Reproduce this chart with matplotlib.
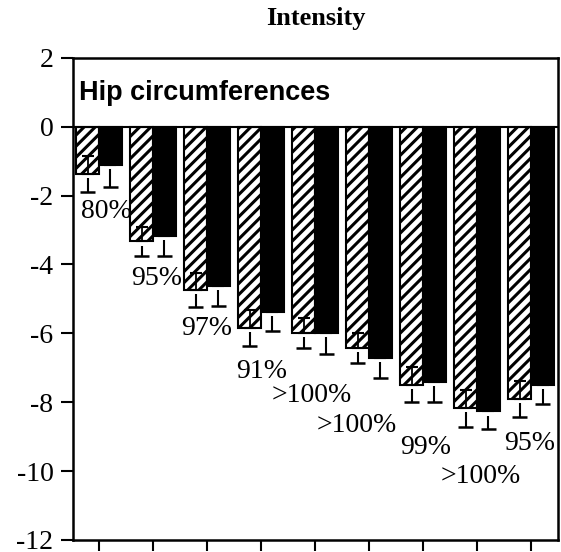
import numpy as np
import matplotlib
matplotlib.use('Agg')
import matplotlib.pyplot as plt

plt.rcParams['font.family'] = 'Liberation Serif'
plt.rcParams['axes.unicode_minus'] = False
plt.rcParams['hatch.linewidth'] = 2.2

# values
hatched = [-1.36, -3.33, -4.74, -5.84, -5.99, -6.43, -7.49, -8.18, -7.90]
solid = [-1.10, -3.18, -4.62, -5.38, -5.99, -6.71, -7.41, -8.27, -7.49]
err_hatched = [0.52, 0.43, 0.50, 0.52, 0.44, 0.43, 0.50, 0.53, 0.52]
err_solid = [0.66, 0.58, 0.58, 0.55, 0.60, 0.58, 0.58, 0.50, 0.55]
labels = ['80%', '95%', '97%', '91%', '>100%', '>100%', '99%', '>100%', '95%']
label_x = [0.13, 1.06, 2.0, 3.02, 3.94, 4.78, 6.04, 7.06, 7.98]
label_y = [-2.45, -4.42, -5.87, -7.11, -7.81, -8.68, -9.31, -10.15, -9.2]

x = np.arange(len(hatched))
w = 0.42
gap = 0.12   # small gap between bar end and the lower whisker
cap = 0.14

fig = plt.figure(figsize=(5.61, 5.52), dpi=100)
ax = fig.add_axes([0.130, 0.022, 0.865, 0.873])

ax.bar(x - w / 2, hatched, w, color='white', edgecolor='black', hatch='///', linewidth=1.5)
ax.bar(x + w / 2, solid, w, color='black', edgecolor='black', linewidth=1.5)

for xs, vals, errs in [(x - w / 2, hatched, err_hatched), (x + w / 2, solid, err_solid)]:
    vals = np.array(vals)
    errs = np.array(errs)
    # upper half of the error bar (shows as a T inside the hatched bars)
    ax.errorbar(xs, vals, yerr=[np.zeros_like(errs), errs], fmt='none', ecolor='black',
                elinewidth=1.3, capsize=4, capthick=1.5)
    # lower half, drawn as an inverted T below the bar
    ax.vlines(xs, vals - gap, vals - errs, color='black', linewidth=1.5)
    ax.hlines(vals - errs, xs - cap, xs + cap, color='black', linewidth=1.8)

ax.axhline(0, color='black', linewidth=1.5)

for lx, ly, t in zip(label_x, label_y, labels):
    ax.text(lx, ly, t, fontsize=20, ha='center', va='center')

ax.text(-0.37, 0.99, 'Hip circumferences', fontsize=19.5, fontweight='bold',
        family='Liberation Sans', ha='left', va='center')

ax.set_xlim(-0.48, 8.5)
ax.set_ylim(-12, 2)
ax.set_yticks(np.arange(-12, 3, 2))
ax.set_xticks(x)
ax.set_xticklabels([])
ax.tick_params(axis='y', labelsize=20, length=9, width=1.5, pad=5)
ax.tick_params(axis='x', length=8, width=1.5)
for s in ax.spines.values():
    s.set_linewidth(1.8)

ax.set_title('Intensity', fontsize=19, fontweight='bold', pad=24)

fig.savefig('out.png', dpi=100)
